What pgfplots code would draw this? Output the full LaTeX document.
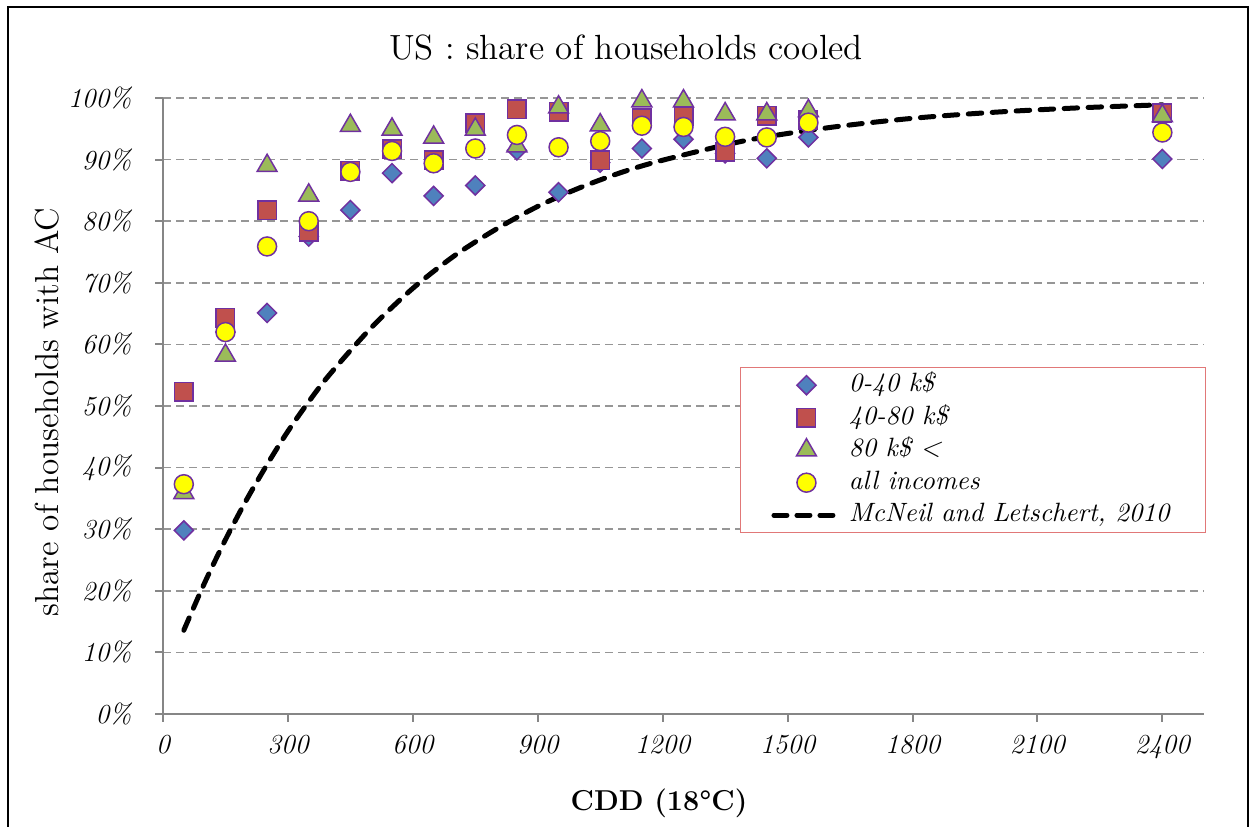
\documentclass[border=0pt]{standalone}
\usepackage{fontspec}
\usepackage{pgfplots}
\pgfplotsset{compat=1.18}
\definecolor{mkedge}{RGB}{112,48,160}
\definecolor{cblue}{RGB}{79,129,189}
\definecolor{cred}{RGB}{192,80,77}
\definecolor{cgreen}{RGB}{155,187,89}
\definecolor{cyellow}{RGB}{255,255,0}
\definecolor{gridgray}{RGB}{150,150,150}
\definecolor{axgray}{RGB}{134,134,134}
\definecolor{legred}{RGB}{225,120,120}
\pgfplotsset{mylegmark/.style={legend image code/.code={\draw[mark repeat=2,mark phase=2,##1] plot coordinates {(0pt,0pt) (14pt,0pt) (28pt,0pt)};}},
  mylegline/.style={legend image code/.code={\draw[##1] (1pt,0pt) -- (25pt,0pt);}}}
\begin{document}
\begin{tikzpicture}
\begin{axis}[
  scale only axis, width=416.4pt, height=246.4pt,
  xmin=0, xmax=2500, ymin=0, ymax=100,
  xtick={0,300,...,2400}, ytick={0,10,...,100},
  axis x line*=bottom, axis y line*=left,
  axis line style={axgray, line width=0.8pt, -},
  tick style={axgray, line width=0.8pt},
  major tick length=3.2pt, tick align=outside,
  ymajorgrids, grid style={gridgray, line width=0.6pt, dash pattern=on 3.2pt off 2pt},
  /pgf/number format/assume math mode=true,
  /pgf/number format/1000 sep={},
  ticklabel style={font=\fontsize{11}{13}\selectfont\itshape},
  yticklabel={\pgfmathprintnumber{\tick}\%},
  xticklabel style={yshift=-1.8pt},
  yticklabel style={xshift=-5.9pt},
  clip=false,
  legend cell align=left,
  legend style={at={(0.554,0.563)}, anchor=north west, draw=legred, line width=0.4pt, fill=white,
    font=\fontsize{10.6}{13}\selectfont\itshape, inner xsep=12.5pt, inner ysep=0.5pt,
    /tikz/column sep=3pt,
    nodes={inner ysep=1pt, text height=8.2pt, text depth=2.8pt}},
]
% McNeil and Letschert 2010 curve (drawn first, behind markers)
\addplot[black, line width=2pt, dash pattern=on 5.4pt off 4.2pt, line cap=round, smooth, forget plot] coordinates {
(50,13.6) (100,21.3) (150,28.3) (200,34.7) (250,40.5) (300,45.9) (350,50.7) (400,55.1)
(500,62.7) (600,69.1) (700,74.4) (800,78.7) (900,82.4) (1000,85.4) (1100,87.9) (1200,89.9)
(1400,93.1) (1600,95.2) (1800,96.7) (2000,97.7) (2200,98.4) (2400,98.9)};
% 0-40 k$
\addplot[only marks, mylegmark, mark=square*, mark size=2.7pt, mark options={rotate=45, draw=mkedge, fill=cblue, line width=0.6pt}] coordinates {
(50,29.8) (150,62) (250,65.1) (350,77.5) (450,81.8) (550,87.8) (650,84.1) (750,85.8) (850,91.5)
(950,84.7) (1050,89.5) (1150,91.8) (1250,93.3) (1350,91.0) (1450,90.2) (1550,93.6) (2400,90.1)};
\addlegendentry{0-40 k\$}
% 40-80 k$
\addplot[only marks, mylegmark, mark=square*, mark size=3.7pt, mark options={draw=mkedge, fill=cred, line width=0.6pt}] coordinates {
(50,52.3) (150,64.3) (250,81.8) (350,78.3) (450,88.2) (550,91.7) (650,89.9) (750,95.9) (850,98.2)
(950,97.8) (1050,89.9) (1150,96.7) (1250,97.0) (1350,91.3) (1450,97.1) (1550,96.4) (2400,97.5)};
\addlegendentry{40-80 k\$}
% 80 k$ <
\addplot[only marks, mylegmark, mark=triangle*, mark size=4.6pt, mark options={draw=mkedge, fill=cgreen, line width=0.6pt}] coordinates {
(50,35.9) (150,58.2) (250,89.0) (350,84.2) (450,95.5) (550,94.9) (650,93.6) (750,94.9) (850,92.2)
(950,98.5) (1050,95.6) (1150,99.5) (1250,99.5) (1350,97.4) (1450,97.4) (1550,97.9) (2400,97.1)};
\addlegendentry{80 k\$ <}
% all incomes
\addplot[only marks, mylegmark, mark=*, mark size=3.8pt, mark options={draw=mkedge, fill=cyellow, line width=0.6pt}] coordinates {
(50,37.3) (150,62.0) (250,75.9) (350,80.0) (450,88.0) (550,91.4) (650,89.4) (750,91.8) (850,94.0)
(950,92.0) (1050,93.0) (1150,95.5) (1250,95.3) (1350,93.7) (1450,93.6) (1550,96.0) (2400,94.4)};
\addlegendentry{all incomes}
\addlegendimage{mylegline, black, line width=2pt, dash pattern=on 5.2pt off 4pt, line cap=round}
\addlegendentry{McNeil and Letschert, 2010}
% title and labels
\node[anchor=base, font=\fontsize{14}{16}\selectfont] at (rel axis cs:0.4448,1.0633) {US : share of households cooled};
\node[rotate=90, anchor=center, font=\fontsize{13.3}{15}\selectfont] at (rel axis cs:-0.1114,0.490) {share of households with AC};
\node[anchor=center, font=\fontsize{11.5}{13}\selectfont\bfseries] at (rel axis cs:0.4765,-0.1445) {CDD (18°C)};
% chart frame and bounding box
\path (rel axis cs:-0.15658,-0.18344) rectangle (rel axis cs:1.04707,1.15909);
\draw[black, line width=1.1pt] (rel axis cs:-0.1489,-0.18344) -- (rel axis cs:-0.1489,1.14773) -- (rel axis cs:1.04227,1.14773) -- (rel axis cs:1.04227,-0.18344);
\end{axis}
\end{tikzpicture}
\end{document}
